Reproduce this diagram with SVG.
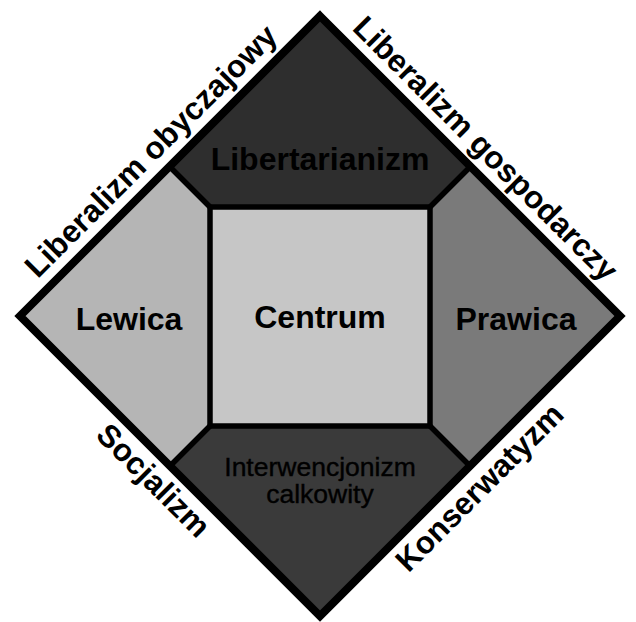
<svg xmlns="http://www.w3.org/2000/svg" width="636" height="622" viewBox="0 0 636 622">
<style>
.region{stroke:none}
.lbl{font-family:"Liberation Sans",Arial,sans-serif;font-weight:bold;font-size:32px;fill:#000;text-anchor:middle}
.ax{font-family:"Liberation Sans",Arial,sans-serif;font-weight:bold;font-size:31.5px;fill:#000;text-anchor:middle}
.lbl2{font-family:"Liberation Sans",Arial,sans-serif;font-size:26.5px;fill:#000;text-anchor:middle;stroke:#000;stroke-width:0.4}
.sep{stroke:#000;stroke-width:5.5;fill:none;stroke-linejoin:miter}
</style>
<rect width="636" height="622" fill="#fff"/>
<g id="libertarianizm">
<polygon class="region" fill="#2e2e2e" points="320,16 470.5,166.5 430,207 210,207 169.5,166.5"/>
<text class="lbl" x="320" y="170">Libertarianizm</text>
</g>
<g id="lewica">
<polygon class="region" fill="#b5b5b5" points="20,316 169.5,166.5 210,207 210,426 170,466"/>
<text class="lbl" x="129" y="330">Lewica</text>
</g>
<g id="prawica">
<polygon class="region" fill="#7a7a7a" points="620,316 470.5,166.5 430,207 430,426 470,466"/>
<text class="lbl" x="516" y="330">Prawica</text>
</g>
<g id="interwencjonizm">
<polygon class="region" fill="#3a3a3a" points="320,616 470,466 430,426 210,426 170,466"/>
<text class="lbl2" x="320" y="476">Interwencjonizm</text>
<text class="lbl2" x="320" y="503">calkowity</text>
</g>
<g id="centrum">
<rect class="region" fill="#c6c6c6" x="210" y="207" width="220" height="219"/>
<text class="lbl" x="320" y="328">Centrum</text>
</g>
<g id="connectors">
<rect class="sep" x="210" y="207" width="220" height="219"/>
<line class="sep" x1="210" y1="207" x2="169.5" y2="166.5"/>
<line class="sep" x1="430" y1="207" x2="470.5" y2="166.5"/>
<line class="sep" x1="430" y1="426" x2="470" y2="466"/>
<line class="sep" x1="210" y1="426" x2="170" y2="466"/>
<polygon points="320,16 620,316 320,616 20,316" fill="none" stroke="#000" stroke-width="8" stroke-linejoin="miter"/>
</g>
<g id="axis-labels">
<text class="ax" transform="translate(158.5,158.5) rotate(-45)">Liberalizm obyczajowy</text>
<text class="ax" transform="translate(478,156) rotate(45)">Liberalizm gospodarczy</text>
<text class="ax" transform="translate(146,488) rotate(45)">Socjalizm</text>
<text class="ax" transform="translate(487,495) rotate(-45)">Konserwatyzm</text>
</g>
</svg>
